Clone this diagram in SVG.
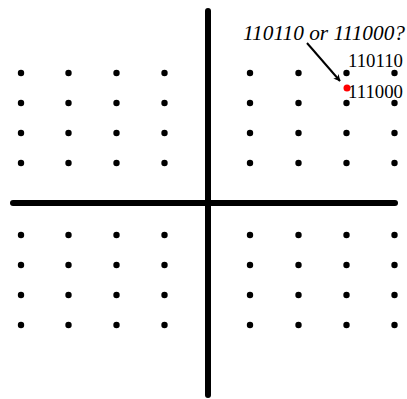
<svg xmlns="http://www.w3.org/2000/svg" width="407" height="399" viewBox="0 0 407 399">
<style>
.dot{fill:#000}
.axis{stroke:#000;stroke-width:6;stroke-linecap:round;fill:none}
.lbl{font-family:"Liberation Serif","Times New Roman",serif;font-size:18px;fill:#000}
.q{font-family:"Liberation Serif","Times New Roman",serif;font-size:21px;font-style:italic;fill:#000}
</style>
<defs>
<marker id="ah" viewBox="0 0 10 10" refX="9" refY="5" markerWidth="7" markerHeight="7" orient="auto" markerUnits="userSpaceOnUse">
<path d="M0,0 L10,5 L0,10 L3,5 z" fill="#000"/>
</marker>
<g id="row">
<circle cx="21" cy="0" r="3.2"/><circle cx="68.5" cy="0" r="3.2"/><circle cx="116.5" cy="0" r="3.2"/><circle cx="164.5" cy="0" r="3.2"/>
<circle cx="250" cy="0" r="3.2"/><circle cx="298.5" cy="0" r="3.2"/><circle cx="346.5" cy="0" r="3.2"/><circle cx="394.5" cy="0" r="3.2"/>
</g>
</defs>
<rect width="407" height="399" fill="#fff"/>
<g id="axes">
<line class="axis" x1="208" y1="11" x2="208" y2="395"/>
<line class="axis" x1="13" y1="203" x2="395" y2="203"/>
</g>
<g id="points" class="dot">
<use href="#row" y="73"/>
<use href="#row" y="103"/>
<use href="#row" y="133"/>
<use href="#row" y="163"/>
<use href="#row" y="235"/>
<use href="#row" y="265"/>
<use href="#row" y="295"/>
<use href="#row" y="325"/>
</g>
<g id="noisy-point">
<circle cx="347" cy="88" r="3.5" fill="#f00"/>
</g>
<g id="labels">
<text class="lbl" x="348" y="67" textLength="55" lengthAdjust="spacingAndGlyphs">110110</text>
<text class="lbl" x="348" y="98" textLength="55" lengthAdjust="spacingAndGlyphs">111000</text>
<text class="q" x="243" y="40" textLength="162" lengthAdjust="spacingAndGlyphs">110110 or 111000?</text>
</g>
<g id="connectors">
<line x1="307" y1="43" x2="340" y2="81" stroke="#000" stroke-width="2" marker-end="url(#ah)"/>
</g>
</svg>
